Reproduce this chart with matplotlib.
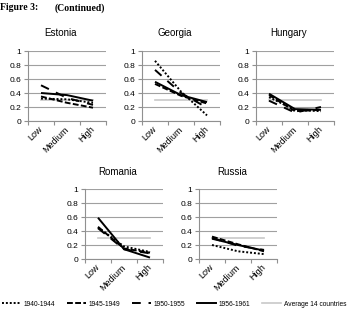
import matplotlib
matplotlib.use("Agg")
import matplotlib.pyplot as plt
from matplotlib.lines import Line2D

# ---- data ----
categories = ["Low", "Medium", "High"]
series_names = ["1940-1944", "1945-1949", "1950-1955", "1956-1961"]
average_label = "Average 14 countries"
average_values = [0.30, 0.30, 0.30]

estonia = {
    "1940-1944": [0.32, 0.31, 0.26],
    "1945-1949": [0.35, 0.26, 0.19],
    "1950-1955": [0.51, 0.33, 0.23],
    "1956-1961": [0.40, 0.37, 0.29],
}
georgia = {
    "1940-1944": [0.86, 0.42, 0.08],
    "1945-1949": [0.53, 0.36, 0.25],
    "1950-1955": [0.73, 0.40, 0.19],
    "1956-1961": [0.56, 0.37, 0.27],
}
hungary = {
    "1940-1944": [0.34, 0.16, 0.14],
    "1945-1949": [0.37, 0.14, 0.16],
    "1950-1955": [0.29, 0.12, 0.20],
    "1956-1961": [0.39, 0.17, 0.16],
}
romania = {
    "1940-1944": [0.45, 0.18, 0.10],
    "1945-1949": [0.46, 0.15, 0.09],
    "1950-1955": [0.44, 0.14, 0.08],
    "1956-1961": [0.59, 0.14, 0.02],
}
russia = {
    "1940-1944": [0.20, 0.11, 0.07],
    "1945-1949": [0.32, 0.21, 0.11],
    "1950-1955": [0.30, 0.19, 0.13],
    "1956-1961": [0.29, 0.20, 0.12],
}
countries = ["Estonia", "Georgia", "Hungary", "Romania", "Russia"]
country_data = [estonia, georgia, hungary, romania, russia]
y_ticks = [0, 0.2, 0.4, 0.6, 0.8, 1]
y_tick_labels = ["0", "0.2", "0.4", "0.6", "0.8", "1"]

# ---- styles ----
W, H = 348, 311
styles = {
    "1940-1944": dict(color="black", lw=1.4, linestyle=(0, (1, 1))),
    "1945-1949": dict(color="black", lw=1.4, linestyle=(0, (3, 1.2))),
    "1950-1955": dict(color="black", lw=1.4, linestyle=(0, (4.5, 4))),
    "1956-1961": dict(color="black", lw=1.4, linestyle="-"),
}
avg_style = dict(color="#c8c8c8", lw=1.2, linestyle="-")
font = "Liberation Sans"

fig = plt.figure(figsize=(W / 100, H / 100), dpi=100)

# axes boxes in pixels: (left, right, y_top(=1), y_bottom(=0))
boxes = [
    (28, 106, 51, 121),
    (142, 220, 51, 121),
    (256, 334, 51, 121),
    (85, 163, 189, 259),
    (199, 277, 189, 259),
]
title_pos = [(60.5, 33), (175, 33), (289, 33), (118, 172), (232, 172)]

x = list(range(len(categories)))
for name, data, (l, r, t, b), (tx, ty) in zip(countries, country_data, boxes, title_pos):
    ax = fig.add_axes([l / W, 1 - b / H, (r - l) / W, (b - t) / H])
    ax.set_xlim(-0.5, 2.5)
    ax.set_ylim(0, 1)
    ax.plot(x, average_values, zorder=2, **avg_style)
    for s in series_names:
        ax.plot(x, data[s], zorder=3, solid_capstyle="butt", dash_capstyle="butt", **styles[s])
    ax.set_yticks(y_ticks)
    ax.set_yticklabels(y_tick_labels, fontsize=6, family=font)
    ax.yaxis.grid(True, color="#a0a0a0", lw=0.8)
    ax.set_axisbelow(True)
    ax.set_xticks(x)
    ax.set_xticklabels(categories, fontsize=6.5, family=font, rotation=45,
                       ha="right", va="center", rotation_mode="anchor")
    ax.tick_params(axis="x", which="major", length=0, pad=5)
    ax.set_xticks([-0.5, 0.5, 1.5, 2.5], minor=True)
    ax.tick_params(axis="x", which="minor", length=3, color="#909090", width=0.8, direction="out")
    ax.tick_params(axis="y", length=3, color="#909090", width=0.8, pad=2)
    for sp in ["top", "right"]:
        ax.spines[sp].set_visible(False)
    for sp in ["left", "bottom"]:
        ax.spines[sp].set_color("#909090")
        ax.spines[sp].set_linewidth(0.8)
    ax.patch.set_alpha(0)
    fig.text(tx / W, 1 - ty / H, name, ha="center", va="center", fontsize=7, family=font)

fig.text(0 / W, 1 - 8 / H, "Figure 3:", ha="left", va="center", fontsize=7,
         family="Liberation Serif", fontweight="bold")
fig.text(55 / W, 1 - 8 / H, "(Continued)", ha="left", va="center", fontsize=7,
         family="Liberation Serif", fontweight="bold")

handles = [Line2D([], [], **styles[s]) for s in series_names] + [Line2D([], [], **avg_style)]
labels = series_names + [average_label]
leg = fig.legend(handles, labels, loc="center", bbox_to_anchor=(0.5, 1 - 304 / H), ncol=5,
                 frameon=False, prop=dict(family=font, size=4.8), handlelength=2.9,
                 handletextpad=0.4, columnspacing=1.7, borderaxespad=0, borderpad=0)

fig.savefig("out.png", dpi=100)
